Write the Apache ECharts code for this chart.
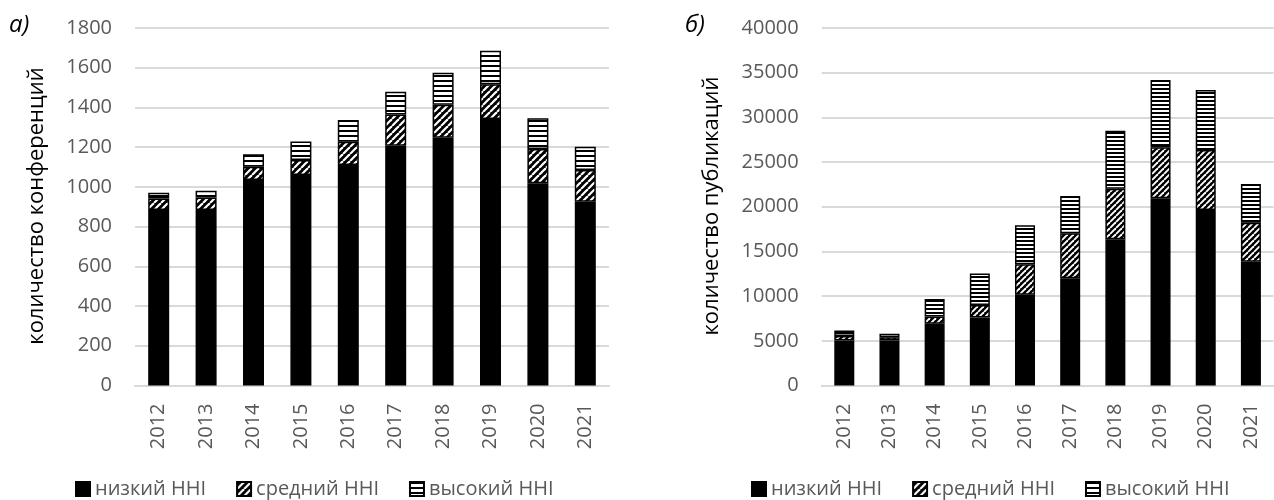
<!DOCTYPE html>
<html>
<head>
<meta charset="utf-8">
<script src="https://cdn.jsdelivr.net/npm/echarts@6/dist/echarts.min.js"></script>
<style>
  html, body { margin: 0; padding: 0; background: #fff; }
  #chart { width: 1274px; height: 500px; }
</style>
</head>
<body>
<div id="chart"></div>
<script>
// Years on the category axis
const years = ['2012', '2013', '2014', '2015', '2016', '2017', '2018', '2019', '2020', '2021'];

// а) number of conferences by HHI level
const confLow  = [884, 884, 1035, 1060, 1110, 1207, 1248, 1342, 1018, 925];
const confMid  = [58, 62, 67, 75, 117, 158, 165, 175, 173, 160];
const confHigh = [29, 35, 62, 93, 110, 114, 162, 169, 154, 117];

// б) number of publications by HHI level
const pubLow  = [5030, 5030, 6900, 7600, 10140, 12000, 16370, 20950, 19640, 13860];
const pubMid  = [520, 380, 820, 1420, 3430, 5030, 5650, 5700, 6710, 4360];
const pubHigh = [600, 370, 1970, 3500, 4360, 4170, 6490, 7530, 6710, 4330];

const seriesNames = ['низкий HHI', 'средний HHI', 'высокий HHI'];
const FONT = 'Open Sans';

// Diagonal "/" hatch: white lines on black
function hatchPattern(period, lineW) {
  const c = document.createElement('canvas');
  c.width = c.height = period;
  const g = c.getContext('2d');
  g.fillStyle = '#000';
  g.fillRect(0, 0, period, period);
  g.strokeStyle = '#fff';
  g.lineWidth = lineW;
  for (let k = -period; k <= period; k += period) {
    g.beginPath();
    g.moveTo(k, period);
    g.lineTo(k + period, 0);
    g.stroke();
  }
  return { image: c, repeat: 'repeat' };
}

// Horizontal stripes: black lines on white
function stripePattern(period, blackH) {
  const c = document.createElement('canvas');
  c.width = 4;
  c.height = period;
  const g = c.getContext('2d');
  g.fillStyle = '#fff';
  g.fillRect(0, 0, 4, period);
  g.fillStyle = '#000';
  g.fillRect(0, 0, 4, blackH);
  return { image: c, repeat: 'repeat' };
}

const fills = [
  ['#000', hatchPattern(7, 2.2), stripePattern(5, 2)],
  ['#000', hatchPattern(6, 1.9), stripePattern(4, 2)]
];

const grids = [
  { left: 135, right: 665, top: 28, bottom: 114.5 },
  { left: 821.7, right: 0.5, top: 28, bottom: 114.5 }
];

function xAxisFor(i) {
  return {
    type: 'category', gridIndex: i, data: years,
    axisLine: { show: true, lineStyle: { color: '#d9d9d9', width: 2 } },
    axisTick: { show: false },
    axisLabel: { rotate: 90, margin: 18, color: '#595959', fontSize: 20, fontFamily: FONT }
  };
}
function yAxisFor(i, max, interval) {
  return {
    type: 'value', gridIndex: i, min: 0, max: max, interval: interval,
    axisLine: { show: false }, axisTick: { show: false },
    axisLabel: { margin: 23, color: '#595959', fontSize: 20, fontFamily: FONT,
      formatter: function (v) { return String(v); } },
    splitLine: { lineStyle: { color: '#d9d9d9', width: 2 } }
  };
}

function barSeries(gi, data, k, barW) {
  return {
    name: seriesNames[k], type: 'bar', stack: 'total' + gi,
    xAxisIndex: gi, yAxisIndex: gi, data: data, barWidth: barW,
    itemStyle: { color: fills[gi][k], borderColor: '#000', borderWidth: 1.5 },
    emphasis: { disabled: true }
  };
}

const legendBase = {
  data: seriesNames, top: 478, itemWidth: 14, itemHeight: 14, itemGap: 30,
  icon: 'rect', padding: 0,
  textStyle: { color: '#595959', fontSize: 20, fontFamily: FONT, lineHeight: 22 },
  selectedMode: false
};

const option = {
  animation: false,
  grid: grids,
  xAxis: [xAxisFor(0), xAxisFor(1)],
  yAxis: [yAxisFor(0, 1800, 200), yAxisFor(1, 40000, 5000)],
  legend: [
    Object.assign({}, legendBase, { left: 75 }),
    Object.assign({}, legendBase, { left: 751 })
  ],
  series: [
    barSeries(0, confLow, 0, 21), barSeries(0, confMid, 1, 21), barSeries(0, confHigh, 2, 21),
    barSeries(1, pubLow, 0, 20), barSeries(1, pubMid, 1, 20), barSeries(1, pubHigh, 2, 20)
  ],
  graphic: [
    { type: 'text', left: 9, top: 13, style: { text: 'а)', fontSize: 24, fontStyle: 'italic', fontFamily: FONT, fill: '#000' } },
    { type: 'text', left: 685, top: 13, style: { text: 'б)', fontSize: 24, fontStyle: 'italic', fontFamily: FONT, fill: '#000' } },
    { type: 'text', x: 37, y: 206, rotation: Math.PI / 2,
      style: { text: 'количество конференций', fontSize: 22, fontFamily: FONT, fill: '#000', align: 'center', verticalAlign: 'middle' } },
    { type: 'text', x: 712, y: 206, rotation: Math.PI / 2,
      style: { text: 'количество публикаций', fontSize: 22, fontFamily: FONT, fill: '#000', align: 'center', verticalAlign: 'middle' } }
  ]
};

const chart = echarts.init(document.getElementById('chart'), null, { renderer: 'canvas' });
chart.setOption(option);
</script>
</body>
</html>
